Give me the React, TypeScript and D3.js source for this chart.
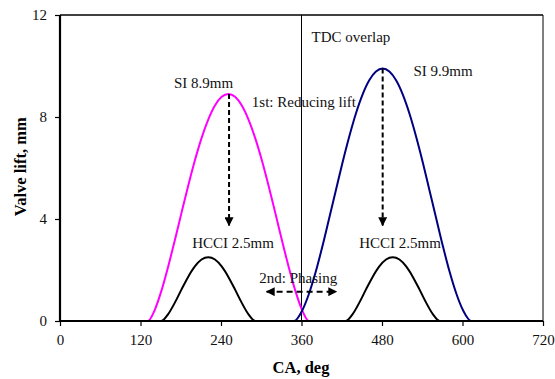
import React, { useEffect, useRef } from "react";
import * as d3 from "d3";

// crank angle (deg) / valve lift (mm)
const siIntakeAngle = [0, 131, 141, 151, 161, 171, 181, 191, 201, 211, 221, 231, 241, 251, 261, 271, 281, 291, 301, 311, 321, 331, 341, 351, 361, 371, 720];
const siIntakeLift = [0, 0, 0.42, 1.17, 2.11, 3.15, 4.23, 5.29, 6.29, 7.17, 7.9, 8.45, 8.79, 8.9, 8.79, 8.45, 7.9, 7.17, 6.29, 5.29, 4.23, 3.15, 2.11, 1.17, 0.42, 0, 0];

const siExhaustAngle = [0, 349, 361, 371, 381, 391, 401, 411, 421, 431, 441, 451, 461, 471, 481, 491, 501, 511, 521, 531, 541, 551, 561, 571, 581, 591, 601, 613, 720];
const siExhaustLift = [0, 0, 0.41, 1.06, 1.91, 2.91, 4.0, 5.1, 6.2, 7.22, 8.13, 8.88, 9.44, 9.78, 9.9, 9.78, 9.44, 8.88, 8.13, 7.22, 6.2, 5.1, 4.0, 2.91, 1.91, 1.06, 0.41, 0, 0];

const hcciAAngle = [0, 151, 161, 171, 181, 191, 201, 211, 221, 231, 241, 251, 261, 271, 281, 291, 720];
const hcciBAngle = [0, 426, 436, 446, 456, 466, 476, 486, 496, 506, 516, 526, 536, 546, 556, 566, 720];
const hcciLift = [0, 0, 0.26, 0.71, 1.23, 1.73, 2.14, 2.41, 2.5, 2.41, 2.14, 1.73, 1.23, 0.71, 0.26, 0, 0];

const xTicks = [0, 120, 240, 360, 480, 600, 720];
const yTicks = [0, 4, 8, 12];

const W = 555, H = 379;
const FONT = "'Liberation Serif', 'Times New Roman', serif";

function ValveLiftChart() {
  const ref = useRef<SVGSVGElement>(null);

  useEffect(() => {
    const svg = d3.select(ref.current);
    svg.selectAll("*").remove();

    const x = d3.scaleLinear().domain([0, 720]).range([60, 543]);
    const y = d3.scaleLinear().domain([0, 12]).range([321, 15]);

    // frame top / right
    svg.append("line").attr("x1", x(0)).attr("x2", x(720)).attr("y1", y(12)).attr("y2", y(12))
      .attr("stroke", "#000").attr("stroke-width", 1.5);
    svg.append("line").attr("x1", x(720)).attr("x2", x(720)).attr("y1", y(12)).attr("y2", y(0))
      .attr("stroke", "#000").attr("stroke-width", 1);

    // TDC line
    svg.append("line").attr("x1", x(360)).attr("x2", x(360)).attr("y1", y(12)).attr("y2", y(0))
      .attr("stroke", "#000").attr("stroke-width", 1);

    const line = (xs: number[], ys: number[]) =>
      d3.line<number>()
        .x((d, i) => x(xs[i]))
        .y((d) => y(d))
        .curve(d3.curveMonotoneX)(ys);

    const series = [
      { a: siIntakeAngle, l: siIntakeLift, c: "#ff00ff" },
      { a: siExhaustAngle, l: siExhaustLift, c: "#000080" },
      { a: hcciAAngle, l: hcciLift, c: "#000" },
      { a: hcciBAngle, l: hcciLift, c: "#000" },
    ];
    series.forEach((s) => {
      svg.append("path").attr("d", line(s.a, s.l) as string)
        .attr("fill", "none").attr("stroke", s.c).attr("stroke-width", 2);
    });

    // axes
    const xAxis = svg.append("g").attr("transform", `translate(0,${y(0)})`)
      .call(d3.axisBottom(x).tickValues(xTicks).tickSize(5).tickPadding(8));
    const yAxis = svg.append("g").attr("transform", `translate(${x(0)},0)`)
      .call(d3.axisLeft(y).tickValues(yTicks).tickSize(5).tickPadding(8));
    [xAxis, yAxis].forEach((g) => {
      g.select(".domain").attr("stroke", "#000").attr("stroke-width", 2.2);
      g.selectAll(".tick line").attr("stroke", "#000").attr("stroke-width", 1.2);
      g.selectAll(".tick text").attr("fill", "#111").style("font-family", FONT).style("font-size", "15px");
    });
    xAxis.select(".domain").attr("d", `M${x(0)},0H${x(720)}`);
    yAxis.select(".domain").attr("d", `M0,${y(0)}V${y(12)}`);

    // axis titles
    svg.append("text").attr("x", 301).attr("y", 373).attr("text-anchor", "middle")
      .style("font-family", FONT).style("font-size", "16.5px").style("font-weight", "bold")
      .text("CA, deg");
    svg.append("text").attr("transform", `translate(26,${y(6.05)}) rotate(-90)`).attr("text-anchor", "middle")
      .style("font-family", FONT).style("font-size", "16.5px").style("font-weight", "bold")
      .text("Valve lift, mm");

    // arrows
    const defs = svg.append("defs");
    defs.append("marker").attr("id", "ah").attr("viewBox", "0 0 10 10").attr("refX", 9).attr("refY", 5)
      .attr("markerWidth", 4.5).attr("markerHeight", 4.5).attr("orient", "auto-start-reverse")
      .attr("markerUnits", "strokeWidth")
      .append("path").attr("d", "M0,0L10,5L0,10Z").attr("fill", "#000");

    const arrow = (x1: number, y1: number, x2: number, y2: number, dash: string, both = false) => {
      const p = svg.append("line").attr("x1", x(x1)).attr("y1", y(y1)).attr("x2", x(x2)).attr("y2", y(y2))
        .attr("stroke", "#000").attr("stroke-width", 2).attr("stroke-dasharray", dash)
        .attr("marker-end", "url(#ah)");
      if (both) p.attr("marker-start", "url(#ah)");
    };
    arrow(252, 8.9, 252, 3.75, "5,3");
    arrow(481, 9.9, 481, 3.75, "5,3");
    arrow(308, 1.15, 412, 1.15, "6,4", true);

    // labels
    const label = (t: string, xa: number, ya: number) =>
      svg.append("text").attr("x", x(xa)).attr("y", y(ya))
        .style("font-family", FONT).style("font-size", "15px").attr("fill", "#111").text(t);
    label("SI 8.9mm", 170, 9.13);
    label("1st: Reducing lift", 286, 8.39);
    label("TDC overlap", 375, 10.94);
    label("SI 9.9mm", 527, 9.6);
    label("HCCI 2.5mm", 197, 2.86);
    label("HCCI 2.5mm", 446, 2.86);
    label("2nd: Phasing", 297, 1.49);
  }, []);

  return <svg ref={ref} width={W} height={H} style={{ position: "absolute", left: 0, top: 0, background: "#fff" }} />;
}

export default function App() {
  return <ValveLiftChart />;
}
